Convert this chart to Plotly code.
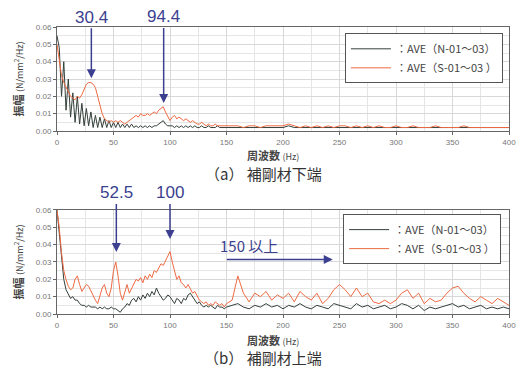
import plotly.graph_objects as go

# Frequency grid (Hz)
freq = [0, 2, 4, 6, 8, 10, 12, 14, 16, 18, 20, 22, 24, 26, 28, 30, 32, 34, 36, 38,
        40, 42, 44, 46, 48, 50, 52, 54, 56, 58, 60, 62, 64, 66, 68, 70, 72, 74, 76, 78,
        80, 82, 84, 86, 88, 90, 92, 94, 96, 98, 100, 102, 104, 106, 108, 110, 112, 114, 116, 118,
        120, 122, 124, 126, 128, 130, 132, 134, 136, 138, 140, 142, 144, 146, 148, 150,
        155, 160, 165, 170, 175, 180, 185, 190, 195, 200, 205, 210, 215, 220, 225, 230, 235, 240, 245,
        250, 255, 260, 265, 270, 275, 280, 285, 290, 295, 300, 305, 310, 315, 320, 325, 330, 335, 340, 345,
        350, 355, 360, 365, 370, 375, 380, 385, 390, 395, 400]

# (a) lower end
a_N = [0.055, 0.048, 0.020, 0.040, 0.012, 0.030, 0.008, 0.022, 0.005, 0.020, 0.004, 0.016, 0.003, 0.013, 0.003, 0.011, 0.002, 0.009, 0.002, 0.008,
       0.002, 0.007, 0.002, 0.006, 0.002, 0.005, 0.002, 0.005, 0.002, 0.004, 0.002, 0.004, 0.002, 0.004, 0.002, 0.003, 0.002, 0.003, 0.002, 0.003,
       0.002, 0.003, 0.002, 0.003, 0.003, 0.004, 0.005, 0.006, 0.004, 0.003, 0.003, 0.003, 0.002, 0.003, 0.002, 0.003, 0.002, 0.003, 0.002, 0.003,
       0.002, 0.003, 0.002, 0.002, 0.003, 0.002, 0.002, 0.003, 0.002, 0.002, 0.002, 0.003, 0.002, 0.002, 0.002, 0.002,
       0.002, 0.002, 0.002, 0.002, 0.002, 0.002, 0.002, 0.002, 0.002, 0.002, 0.003, 0.002, 0.002, 0.002, 0.002, 0.002, 0.002, 0.002, 0.002,
       0.002, 0.002, 0.002, 0.002, 0.002, 0.002, 0.002, 0.002, 0.002, 0.002, 0.002, 0.002, 0.002, 0.002, 0.002, 0.002, 0.002, 0.002, 0.002, 0.002,
       0.002, 0.002, 0.002, 0.002, 0.002, 0.002, 0.002, 0.002, 0.002, 0.002, 0.002]
a_S = [0.050, 0.040, 0.032, 0.028, 0.025, 0.022, 0.020, 0.019, 0.018, 0.020, 0.019, 0.021, 0.024, 0.027, 0.028, 0.028, 0.027, 0.025, 0.020, 0.014,
       0.010, 0.007, 0.006, 0.005, 0.006, 0.005, 0.006, 0.005, 0.006, 0.005, 0.004, 0.005, 0.006, 0.007, 0.008, 0.009, 0.008, 0.010, 0.009, 0.009,
       0.010, 0.009, 0.010, 0.011, 0.010, 0.012, 0.013, 0.014, 0.011, 0.008, 0.006, 0.008, 0.009, 0.007, 0.008, 0.007, 0.006, 0.007, 0.006, 0.005,
       0.006, 0.005, 0.004, 0.004, 0.005, 0.004, 0.003, 0.004, 0.003, 0.003, 0.004, 0.003, 0.003, 0.003, 0.003, 0.003,
       0.003, 0.003, 0.002, 0.003, 0.003, 0.002, 0.003, 0.003, 0.003, 0.003, 0.004, 0.003, 0.002, 0.003, 0.002, 0.003, 0.002, 0.003, 0.002,
       0.003, 0.003, 0.002, 0.003, 0.002, 0.003, 0.002, 0.003, 0.002, 0.002, 0.003, 0.002, 0.002, 0.003, 0.002, 0.002, 0.002, 0.003, 0.002, 0.002,
       0.002, 0.002, 0.003, 0.002, 0.002, 0.002, 0.002, 0.002, 0.002, 0.002, 0.002]

# (b) upper end
b_N = [0.060, 0.045, 0.030, 0.020, 0.014, 0.011, 0.009, 0.010, 0.008, 0.008, 0.006, 0.005, 0.005, 0.004, 0.005, 0.004, 0.004, 0.004, 0.003, 0.004,
       0.003, 0.004, 0.003, 0.003, 0.004, 0.003, 0.003, 0.002, 0.001, 0.003, 0.004, 0.006, 0.005, 0.008, 0.009, 0.007, 0.010, 0.008, 0.011, 0.009,
       0.012, 0.010, 0.013, 0.011, 0.015, 0.012, 0.010, 0.008, 0.009, 0.011, 0.010, 0.008, 0.006, 0.009, 0.008, 0.006, 0.009, 0.008, 0.011, 0.012,
       0.010, 0.008, 0.006, 0.007, 0.005, 0.004, 0.005, 0.004, 0.005, 0.004, 0.003, 0.005, 0.004, 0.004, 0.003, 0.004,
       0.005, 0.006, 0.004, 0.003, 0.005, 0.004, 0.006, 0.004, 0.005, 0.003, 0.005, 0.004, 0.006, 0.004, 0.003, 0.005, 0.004, 0.003, 0.006,
       0.005, 0.004, 0.003, 0.006, 0.004, 0.005, 0.003, 0.004, 0.005, 0.003, 0.004, 0.006, 0.005, 0.003, 0.005, 0.002, 0.004, 0.003, 0.004, 0.005,
       0.006, 0.004, 0.005, 0.003, 0.004, 0.005, 0.003, 0.004, 0.003, 0.004, 0.003]
b_S = [0.060, 0.050, 0.035, 0.025, 0.020, 0.016, 0.014, 0.015, 0.020, 0.022, 0.017, 0.013, 0.015, 0.017, 0.016, 0.013, 0.010, 0.008, 0.006, 0.010,
       0.015, 0.017, 0.012, 0.010, 0.015, 0.025, 0.030, 0.022, 0.012, 0.008, 0.013, 0.017, 0.012, 0.015, 0.018, 0.020, 0.019, 0.021, 0.018, 0.022,
       0.020, 0.023, 0.021, 0.025, 0.024, 0.027, 0.029, 0.028, 0.031, 0.033, 0.036, 0.030, 0.024, 0.020, 0.022, 0.018, 0.017, 0.015, 0.017, 0.014,
       0.012, 0.013, 0.010, 0.008, 0.007, 0.006, 0.007, 0.005, 0.006, 0.005, 0.007, 0.006, 0.005, 0.006, 0.004, 0.006,
       0.008, 0.022, 0.012, 0.007, 0.012, 0.010, 0.013, 0.008, 0.011, 0.009, 0.012, 0.007, 0.013, 0.010, 0.008, 0.012, 0.006, 0.009, 0.014,
       0.017, 0.014, 0.010, 0.015, 0.010, 0.012, 0.007, 0.006, 0.008, 0.006, 0.008, 0.012, 0.014, 0.009, 0.012, 0.006, 0.009, 0.007, 0.008, 0.012,
       0.015, 0.016, 0.012, 0.009, 0.007, 0.010, 0.008, 0.006, 0.009, 0.007, 0.005]

x_ticks = [0, 50, 100, 150, 200, 250, 300, 350, 400]
y_ticks = [0.00, 0.01, 0.02, 0.03, 0.04, 0.05, 0.06]

name_N = "：AVE（N-01～03）"
name_S = "：AVE（S-01～03 ）"
col_N = "#34403a"
col_S = "#ee6a42"
arrow_col = "#3c3f8f"

fig = go.Figure()
fig.add_trace(go.Scatter(x=freq, y=a_N, mode="lines", name=name_N, line=dict(color=col_N, width=1),
                         xaxis="x", yaxis="y", legend="legend"))
fig.add_trace(go.Scatter(x=freq, y=a_S, mode="lines", name=name_S, line=dict(color=col_S, width=1),
                         xaxis="x", yaxis="y", legend="legend"))
fig.add_trace(go.Scatter(x=freq, y=b_N, mode="lines", name=name_N, line=dict(color=col_N, width=1),
                         xaxis="x2", yaxis="y2", legend="legend2"))
fig.add_trace(go.Scatter(x=freq, y=b_S, mode="lines", name=name_S, line=dict(color=col_S, width=1),
                         xaxis="x2", yaxis="y2", legend="legend2"))

tickfont = dict(family="Arial, Liberation Sans", size=8, color="#777777")
xax = dict(range=[0, 400], tickvals=x_ticks, showgrid=True, gridcolor="#d8d8d8", gridwidth=1,
           minor=dict(dtick=25, showgrid=True, gridcolor="#e6e6e6"),
           showline=True, linecolor="#666666", mirror=True, ticks="outside", ticklen=3,
           tickcolor="#666666", tickfont=tickfont, zeroline=False)
yax = dict(range=[0, 0.06], tickvals=y_ticks, tickformat=".2f", showgrid=True, gridcolor="#d8d8d8",
           minor=dict(dtick=0.005, showgrid=True, gridcolor="#e6e6e6"),
           showline=True, linecolor="#666666", mirror=True, ticks="outside", ticklen=3,
           tickcolor="#666666", tickfont=tickfont, zeroline=False)

legend_style = dict(bgcolor="white", bordercolor="#555555", borderwidth=1,
                    font=dict(family="Noto Sans CJK JP", size=11, color="#444444"),
                    xanchor="left", yanchor="top", tracegroupgap=0, itemwidth=40)

fig.update_layout(
    width=528, height=374,
    margin=dict(l=57, r=13, t=27, b=60),
    paper_bgcolor="white", plot_bgcolor="white",
    showlegend=True,
    xaxis=dict(**xax, domain=[0, 1], anchor="y"),
    yaxis=dict(**yax, domain=[0.6376, 1], anchor="x"),
    xaxis2=dict(**xax, domain=[0, 1], anchor="y2"),
    yaxis2=dict(**yax, domain=[0, 0.3624], anchor="x2"),
    legend=dict(**legend_style, x=0.637, y=0.978),
    legend2=dict(**legend_style, x=0.633, y=0.348),
)

ann = []
txtfont = dict(family="Arial, Liberation Sans", size=17, color=arrow_col)
jpfont_small = dict(family="Noto Sans CJK JP", size=11, color="#444444")
jpfont_cap = dict(family="Noto Sans CJK JP", size=15, color="#333333")

# Peak arrows (a)
ann.append(dict(x=30.4, y=0.0305, xref="x", yref="y", text="30.4", showarrow=True, arrowhead=2,
                arrowsize=1.2, arrowwidth=1.5, arrowcolor=arrow_col, ax=0, ay=17 - 78, font=txtfont))
ann.append(dict(x=94.4, y=0.0162, xref="x", yref="y", text="94.4", showarrow=True, arrowhead=2,
                arrowsize=1.2, arrowwidth=1.5, arrowcolor=arrow_col, ax=0, ay=17 - 103, font=txtfont))
# Peak arrows (b)
ann.append(dict(x=52.5, y=0.0358, xref="x2", yref="y2", text="52.5", showarrow=True, arrowhead=2,
                arrowsize=1.2, arrowwidth=1.5, arrowcolor=arrow_col, ax=0, ay=193 - 252, font=txtfont))
ann.append(dict(x=100, y=0.0433, xref="x2", yref="y2", text="100", showarrow=True, arrowhead=2,
                arrowsize=1.2, arrowwidth=1.5, arrowcolor=arrow_col, ax=0, ay=193 - 239, font=txtfont))
# 150 and above arrow
ann.append(dict(x=244, y=0.0315, xref="x2", yref="y2", ax=149, ay=0.0315, axref="x2", ayref="y2",
                text="", showarrow=True, arrowhead=2, arrowsize=1.2, arrowwidth=1.5, arrowcolor=arrow_col))
ann.append(dict(x=170, y=0.0395, xref="x2", yref="y2", text="150 以上", showarrow=False,
                font=dict(family="Noto Sans CJK JP", size=15, color=arrow_col)))

# Axis titles
for yc in [79, 262]:
    ann.append(dict(x=(17 - 57) / 458, y=1 - (yc - 27) / 287, xref="paper", yref="paper",
                    text="<b>振幅</b> <span style='font-size:9px'>(N/mm<sup>2</sup>/Hz)</span>",
                    textangle=-90, showarrow=False, font=jpfont_small, xanchor="center", yanchor="middle"))
for yc in [155, 340]:
    ann.append(dict(x=(276 - 57) / 458, y=1 - (yc - 27) / 287, xref="paper", yref="paper",
                    text="<b>周波数</b> <span style='font-size:9px'>(Hz)</span>",
                    showarrow=False, font=jpfont_small, xanchor="center", yanchor="middle"))
for yc, cap in [(173, "（a） 補剛材下端"), (357, "（b） 補剛材上端")]:
    ann.append(dict(x=(266 - 57) / 458, y=1 - (yc - 27) / 287, xref="paper", yref="paper",
                    text=cap, showarrow=False, font=jpfont_cap, xanchor="center", yanchor="middle"))

fig.update_layout(annotations=ann)
fig.write_html("out.html", config={"displayModeBar": False},
               post_script="document.body.style.margin='0';")
